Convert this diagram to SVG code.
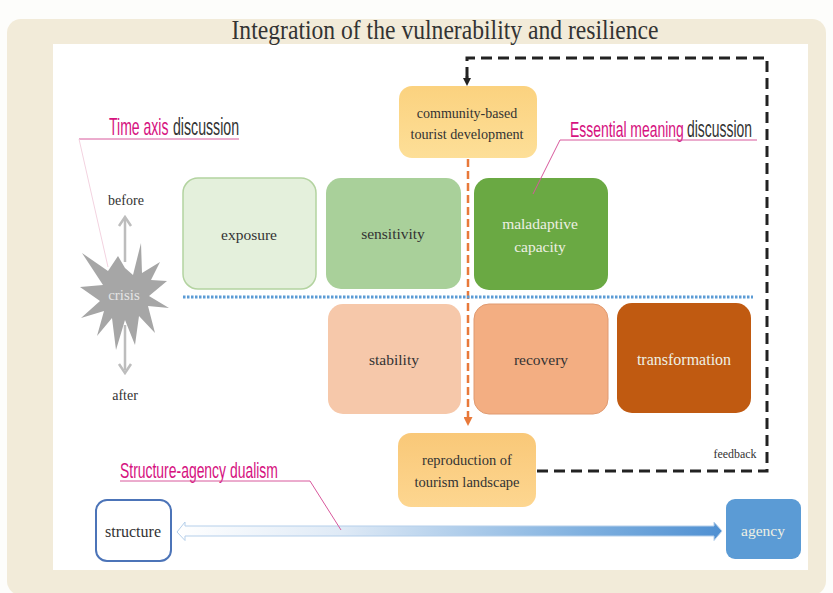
<svg xmlns="http://www.w3.org/2000/svg" width="833" height="593" viewBox="0 0 833 593">
<style>
.t{font-family:"Liberation Serif","Times New Roman",serif;font-size:15px;fill:#333;text-anchor:middle}
.w{fill:#eef0e4}
.h{font-family:"Liberation Sans",Arial,sans-serif;font-size:23px}
.m{fill:#d6127f}
.d{fill:#333}
.lead{fill:none;stroke:#d8589c;stroke-width:1}
.fb{fill:none;stroke:#222;stroke-width:3;stroke-dasharray:11 6}
</style>
<defs>
<linearGradient id="ga" x1="0" x2="1" y1="0" y2="0"><stop offset="0" stop-color="#ffffff"/><stop offset="0.3" stop-color="#dfeaf6"/><stop offset="0.75" stop-color="#7fb0df"/><stop offset="1" stop-color="#4f90d2"/></linearGradient>
<linearGradient id="gy" x1="0" x2="0" y1="0" y2="1"><stop offset="0" stop-color="#fbd27f"/><stop offset="1" stop-color="#fddf98"/></linearGradient>
<linearGradient id="go" x1="0" x2="0" y1="0" y2="1"><stop offset="0" stop-color="#f9c878"/><stop offset="1" stop-color="#fdd690"/></linearGradient>
<marker id="ab" markerWidth="8" markerHeight="8" refX="4" refY="4" orient="auto" markerUnits="userSpaceOnUse"><path d="M0 0L8 4L0 8z" fill="#222"/></marker>
<marker id="ao" markerWidth="9" markerHeight="9" refX="5" refY="4.5" orient="auto" markerUnits="userSpaceOnUse"><path d="M0 0L9 4.5L0 9z" fill="#e8793a"/></marker>
</defs>
<rect x="0" y="0" width="833" height="593" fill="#fdfdfb"/>
<rect x="7" y="19" width="819" height="576" rx="14" fill="#f2ebd9"/>
<rect x="53" y="44" width="755" height="526" fill="#ffffff"/>
<text x="445" y="39" font-family="Liberation Serif,serif" font-size="27" fill="#333" text-anchor="middle" textLength="427" lengthAdjust="spacingAndGlyphs">Integration of the vulnerability and resilience</text>

<g id="node-community"><rect x="399" y="86" width="138" height="72" rx="13" fill="url(#gy)"/><text class="t" x="467" y="118" style="font-size:14px">community-based</text><text class="t" x="467" y="139" style="font-size:14.200px">tourist development</text></g>
<g id="node-exposure"><rect x="183" y="178" width="133" height="111" rx="15" fill="#e4f0dc" stroke="#b3d3a0" stroke-width="1.500"/><text class="t" x="249" y="240" style="font-size:15.500px">exposure</text></g>
<g id="node-sensitivity"><rect x="326" y="178" width="135" height="111" rx="15" fill="#a9d09a"/><text class="t" x="393" y="239" style="font-size:15.500px">sensitivity</text></g>
<g id="node-maladaptive"><rect x="474" y="178" width="134" height="112" rx="15" fill="#6aa943"/><text class="t w" x="540" y="229" style="font-size:15.500px">maladaptive</text><text class="t w" x="540" y="252" style="font-size:15.500px">capacity</text></g>
<g id="node-stability"><rect x="328" y="304" width="133" height="110" rx="15" fill="#f6c8aa"/><text class="t" x="394" y="365" style="font-size:15.500px">stability</text></g>
<g id="node-recovery"><rect x="474" y="304" width="134" height="110" rx="15" fill="#f3ae82" stroke="#e09a70"/><text class="t" x="541" y="365" style="font-size:15.500px">recovery</text></g>
<g id="node-transformation"><rect x="617" y="303" width="134" height="110" rx="15" fill="#c05a11"/><text class="t w" x="684" y="365" style="font-size:16px">transformation</text></g>
<g id="node-reproduction"><rect x="398" y="433" width="138" height="74" rx="13" fill="url(#go)"/><text class="t" x="467" y="465" style="font-size:14.500px">reproduction of</text><text class="t" x="467" y="487" style="font-size:14.500px">tourism landscape</text></g>
<g id="node-crisis"><path d="M125 268L133 275L141 243L142 273L160 262L151 280L167 281L149 296L169 308L148 306L155 333L139 316L135 345L125 320L116 350L112 318L97 336L104 311L81 318L100 301L80 287L103 285L82 253L108 271L118 256Z" fill="#a6a6a6"/><text class="t" x="124" y="300" style="fill:#e4e4e4">crisis</text></g>
<g id="node-before"><text class="t" x="126" y="205" style="font-size:14px">before</text></g>
<g id="node-after"><text class="t" x="125" y="400" style="font-size:14px">after</text></g>
<g id="node-feedback"><text class="t" x="735" y="458" style="font-size:12px" textLength="43" lengthAdjust="spacingAndGlyphs">feedback</text></g>
<g id="node-structure"><rect x="96" y="500" width="75" height="61" rx="11" fill="#fff" stroke="#4c74b8" stroke-width="2"/><text class="t" x="133" y="537" style="font-size:16px">structure</text></g>
<g id="node-agency"><rect x="726" y="499" width="75" height="60" rx="9" fill="#5b9bd5"/><text class="t w" x="763" y="536" style="font-size:15.500px">agency</text></g>
<g id="label-time"><text class="h m" transform="translate(109 135) scale(.61 1)">Time axis</text><text class="h d" transform="translate(173 135) scale(.615 1)">discussion</text></g>
<g id="label-essential"><text class="h m" transform="translate(570 137) scale(.606 1)">Essential meaning</text><text class="h d" transform="translate(687 137) scale(.605 1)">discussion</text></g>
<g id="label-structure"><text class="h m" transform="translate(120 478) scale(.606 1)">Structure-agency dualism</text></g>

<g id="connectors">
<path class="fb" d="M537 471H767V58H467V78"/>
<path d="M467 76V82" stroke="#222" stroke-width="2.500" marker-end="url(#ab)" fill="none"/>
<path d="M468 159V422" fill="none" stroke="#e8793a" stroke-width="2.500" stroke-dasharray="8 4" marker-end="url(#ao)"/>
<path d="M183 297H753" fill="none" stroke="#5b9bd5" stroke-width="3" stroke-dasharray="2.500 1.500"/>
<path d="M125 218V262M125 325V370" stroke="#bdbdbd" stroke-width="2.500" fill="none"/>
<path d="M119 226L125 217L131 226M119 364L125 373L131 364" stroke="#bdbdbd" stroke-width="2.500" fill="none"/>
<path d="M185 526H714V522L722 531L714 540.500V536H185V540.500L177 532L185 522Z" fill="url(#ga)" stroke="#b5cfea" stroke-width="1"/>
<path d="M79 139H239" class="lead"/>
<path d="M79 139L108 267" fill="none" stroke="#f3d3e0" stroke-width="1"/>
<path class="lead" d="M560 140H757M560 140L533 194"/>
<path class="lead" d="M120 481H310L341 530"/>
</g>
</svg>
